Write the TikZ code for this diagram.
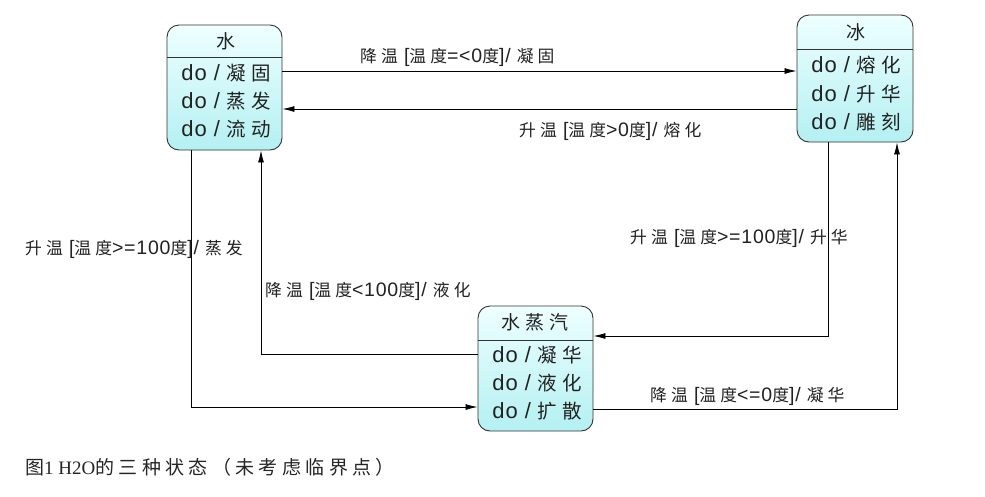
\documentclass[tikz,border=0pt]{standalone}
\usepackage{fontspec}
\setmainfont[LetterSpace=4]{Liberation Sans}
\newfontfamily\cjk[LetterSpace=24]{Noto Sans CJK SC}
\newfontfamily\cjkb[LetterSpace=24]{Noto Sans CJK SC}
\newfontfamily\cjkcap[LetterSpace=23]{Noto Sans CJK SC}
\newfontfamily\capserif{Liberation Serif}
\usetikzlibrary{arrows.meta}
\definecolor{stop}{HTML}{EEFFFF}
\definecolor{sbot}{HTML}{B4F0F2}
\definecolor{txt}{HTML}{222222}
\newcommand\doline[1]{do / {\fontsize{19.5}{19.5}\selectfont\cjkb #1}}
\newcommand\LC[1]{{\fontsize{16.8}{16.8}\selectfont\cjk #1}}
\begin{document}
\begin{tikzpicture}[x=1pt,y=-1pt,
  statebox/.style={draw=black!80, line width=0.9pt, rounded corners=12pt,
    top color=stop, bottom color=sbot, inner sep=0pt},
  sepline/.style={draw=black!80, line width=0.9pt},
  hdr/.style={font=\fontsize{19}{19}\selectfont\cjkb, text=txt, inner sep=0pt},
  act/.style={font=\fontsize{22}{22}\selectfont, text=txt, inner sep=0pt},
  tr/.style={draw=black, line width=0.8pt, -{Latex[length=12pt,width=6pt]}},
  lbl/.style={font=\fontsize{19.5}{19.5}\selectfont, text=txt, inner sep=0pt, anchor=west}]
\useasboundingbox (0,0) rectangle (985,496);
\fill[white] (0,0) rectangle (985,496);
% states
\node[statebox, minimum width=115pt, minimum height=125pt] (water) at (224.5,87.5) {};
\node[statebox, minimum width=116pt, minimum height=127pt] (ice) at (855,78.5) {};
\node[statebox, minimum width=115pt, minimum height=125pt] (vapor) at (535.5,368.5) {};
\draw[sepline] (water.west |- 0,57) -- (water.east |- 0,57);
\draw[sepline] (ice.west |- 0,49) -- (ice.east |- 0,49);
\draw[sepline] (vapor.west |- 0,340) -- (vapor.east |- 0,340);
% texts
\node[hdr] (wh) at (226,41) {水};
\node[act] (w1) at (226,73) {\doline{凝固}};
\node[act] (w2) at (226,101) {\doline{蒸发}};
\node[act] (w3) at (226,129) {\doline{流动}};
\node[hdr] (ih) at (856,32) {冰};
\node[act] (i1) at (856,65) {\doline{熔化}};
\node[act] (i2) at (856,94) {\doline{升华}};
\node[act] (i3) at (856,122) {\doline{雕刻}};
\node[hdr] (vh) at (535,322) {水蒸汽};
\node[act] (v1) at (537,355) {\doline{凝华}};
\node[act] (v2) at (537,383) {\doline{液化}};
\node[act] (v3) at (537,411) {\doline{扩散}};
% transitions
\draw[tr] (water.east |- 0,71) -- (ice.west |- 0,71);
\draw[tr] (ice.west |- 0,109) -- (water.east |- 0,109);
\draw[tr] (water.south -| 191,0) |- (vapor.west |- 0,407);
\draw[tr] (vapor.west |- 0,354) -| (water.south -| 261,0);
\draw[tr] (ice.south -| 828,0) |- (vapor.east |- 0,336);
\draw[tr] (vapor.east |- 0,409) -| (ice.south -| 897,0);
% labels
\node[lbl] (l1) at (360,57) {\LC{降温} [\LC{温度}=<0\LC{度}]/ \LC{凝固}};
\node[lbl] (l2) at (519,131) {\LC{升温} [\LC{温度}>0\LC{度}]/ \LC{熔化}};
\node[lbl] (l3) at (25,249) {\LC{升温} [\LC{温度}>=100\LC{度}]/ \LC{蒸发}};
\node[lbl] (l4) at (265,291) {\LC{降温} [\LC{温度}<100\LC{度}]/ \LC{液化}};
\node[lbl] (l5) at (630,238) {\LC{升温} [\LC{温度}>=100\LC{度}]/ \LC{升华}};
\node[lbl] (l6) at (650,396) {\LC{降温} [\LC{温度}<=0\LC{度}]/ \LC{凝华}};
% caption
\node[anchor=west, inner sep=0pt, text=black!85, font=\fontsize{19}{19}\selectfont] (cap) at (25,467)
  {{\cjkcap 图}{\capserif 1 H2O}{\cjkcap 的三种状态（未考虑临界点）}};
\end{tikzpicture}
\end{document}
